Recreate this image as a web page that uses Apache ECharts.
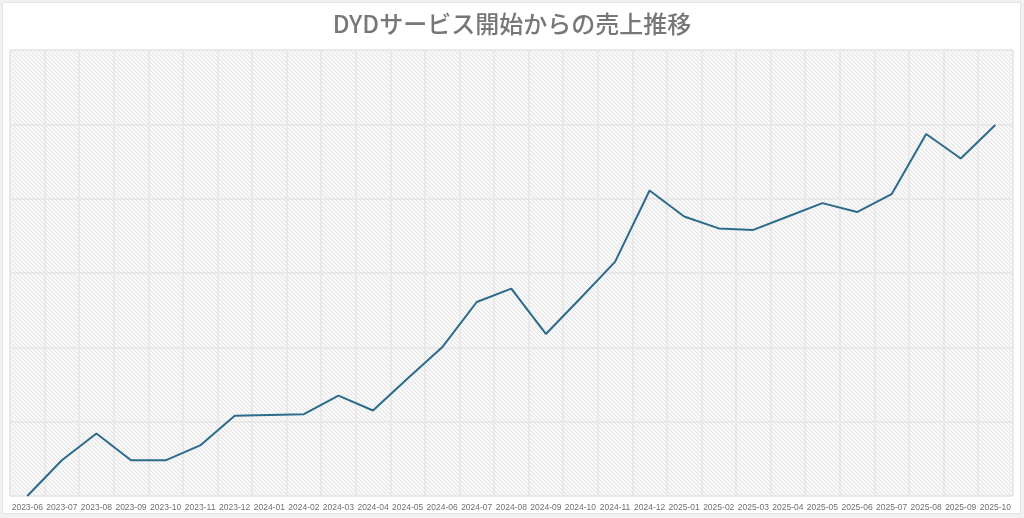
<!DOCTYPE html>
<html>
<head>
<meta charset="utf-8">
<script src="https://cdn.jsdelivr.net/npm/echarts@6/dist/echarts.min.js"></script>
<style>
  html, body { margin: 0; padding: 0; background: #f1f1f1; }
  #frame { position: absolute; left: 2px; top: 2px; width: 1017px; height: 510px; background: #fff; border: 1px solid #e4e4e4; }
  #chart { position: absolute; left: 0; top: 0; width: 1024px; height: 518px; }
</style>
</head>
<body>
<div id="frame"></div>
<div id="chart"></div>
<script>
const titleText = 'DYDサービス開始からの売上推移';
const months = ['2023-06','2023-07','2023-08','2023-09','2023-10','2023-11','2023-12',
  '2024-01','2024-02','2024-03','2024-04','2024-05','2024-06','2024-07','2024-08','2024-09','2024-10','2024-11','2024-12',
  '2025-01','2025-02','2025-03','2025-04','2025-05','2025-06','2025-07','2025-08','2025-09','2025-10'];
const sales = [0, 48, 84, 48, 48, 68, 108,
  109, 110, 135, 115, 158, 200, 261, 279, 218, 266, 315, 411,
  376, 360, 358, 376, 394, 382, 406, 487, 454, 499];

// hatch pattern for plot background
const pc = document.createElement('canvas');
pc.width = 4; pc.height = 4;
const px = pc.getContext('2d');
px.fillStyle = '#f8f8f8';
px.fillRect(0, 0, 4, 4);
px.strokeStyle = '#e3e3e3';
px.lineWidth = 1;
px.beginPath();
px.moveTo(-1, -1); px.lineTo(5, 5);
px.moveTo(-1, 3); px.lineTo(1, 5);
px.moveTo(3, -1); px.lineTo(5, 1);
px.stroke();

const chart = echarts.init(document.getElementById('chart'), null, { renderer: 'canvas' });
chart.setOption({
  backgroundColor: 'transparent',
  animation: false,
  title: {
    text: titleText,
    left: 'center',
    top: 7,
    textStyle: { fontFamily: '"Noto Sans CJK JP", sans-serif', fontSize: 24, fontWeight: 500, color: '#777777' }
  },
  grid: {
    left: 10, right: 11.4, top: 50, bottom: 22,
    show: true,
    backgroundColor: { image: pc, repeat: 'repeat' },
    borderColor: '#e6e6e6', borderWidth: 1
  },
  xAxis: {
    type: 'category',
    data: months,
    boundaryGap: true,
    axisLine: { show: false },
    axisTick: { show: false },
    axisLabel: { interval: 0, margin: 7, fontSize: 8.5, fontWeight: 'normal', color: '#707070', fontFamily: 'Arial, "Liberation Sans", sans-serif' },
    splitLine: { show: true, interval: 0, lineStyle: { color: '#e6e6e6', width: 1.5 } }
  },
  yAxis: {
    type: 'value',
    min: 0, max: 600, interval: 100,
    axisLine: { show: false },
    axisTick: { show: false },
    axisLabel: { show: false },
    splitLine: { show: true, lineStyle: { color: '#e6e6e6', width: 1.5 } }
  },
  series: [{
    type: 'line',
    data: sales,
    showSymbol: false,
    symbol: 'none',
    lineStyle: { color: '#2c6b8c', width: 2 },
    itemStyle: { color: '#2c6b8c' }
  }]
});
</script>
</body>
</html>
